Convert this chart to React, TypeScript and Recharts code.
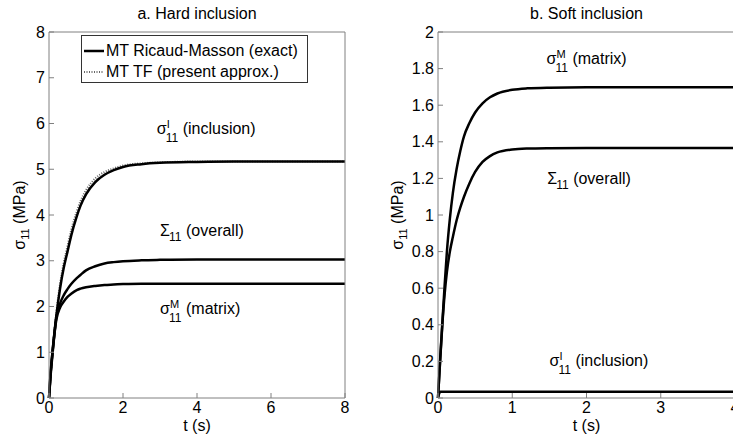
import { LineChart, Line, XAxis, YAxis, Legend, ReferenceDot } from 'recharts';

const FONT = '"Liberation Sans", Arial, Helvetica, sans-serif';
const GREY = '#808080';

// a. Hard inclusion (t in s, stress in MPa)
const tHard = [0, 0.04, 0.1, 0.2, 0.3, 0.4, 0.5, 0.6, 0.75, 0.85, 1.0, 1.25, 1.5, 1.75, 2, 2.5, 3, 4, 5, 6, 7, 8];
const hardInclusion = [0, 0.45, 1.0, 1.8, 2.4, 2.85, 3.2, 3.55, 3.97, 4.2, 4.45, 4.72, 4.88, 4.98, 5.05, 5.11, 5.14, 5.16, 5.17, 5.17, 5.17, 5.17];
const hardInclusionTF = [0, 0.47, 1.05, 1.88, 2.5, 2.96, 3.32, 3.67, 4.08, 4.3, 4.54, 4.8, 4.94, 5.02, 5.08, 5.13, 5.15, 5.17, 5.17, 5.17, 5.17, 5.17];
const hardOverall = [0, 0.5, 1.05, 1.78, 2.07, 2.25, 2.38, 2.49, 2.62, 2.69, 2.79, 2.88, 2.94, 2.97, 2.99, 3.01, 3.02, 3.03, 3.03, 3.03, 3.03, 3.03];
const hardMatrix = [0, 0.52, 1.05, 1.72, 1.98, 2.11, 2.21, 2.28, 2.36, 2.39, 2.42, 2.45, 2.47, 2.48, 2.49, 2.5, 2.5, 2.5, 2.5, 2.5, 2.5, 2.5];
const hardXTicks = [0, 2, 4, 6, 8];
const hardYTicks = [0, 1, 2, 3, 4, 5, 6, 7, 8];

// b. Soft inclusion
const tSoft = [0, 0.03, 0.06, 0.09, 0.12, 0.16, 0.2, 0.25, 0.3, 0.35, 0.42, 0.5, 0.6, 0.7, 0.8, 1.0, 1.2, 1.5, 2, 3, 4];
const softMatrix = [0, 0.22, 0.42, 0.62, 0.8, 0.98, 1.12, 1.25, 1.35, 1.43, 1.5, 1.56, 1.61, 1.643, 1.664, 1.684, 1.692, 1.696, 1.698, 1.698, 1.698];
const softOverall = [0, 0.21, 0.41, 0.57, 0.69, 0.8, 0.88, 0.97, 1.04, 1.1, 1.17, 1.235, 1.29, 1.322, 1.342, 1.358, 1.363, 1.365, 1.366, 1.366, 1.366];
const softInclusion = [0, 0.034, 0.034, 0.034, 0.034, 0.034, 0.034, 0.034, 0.034, 0.034, 0.034, 0.034, 0.034, 0.034, 0.034, 0.034, 0.034, 0.034, 0.034, 0.034, 0.034];
const softXTicks = [0, 1, 2, 3, 4];
const softYTicks = [0, 0.2, 0.4, 0.6, 0.8, 1, 1.2, 1.4, 1.6, 1.8, 2];

const hardRows = tHard.map((t, i) => ({
  t,
  inc: hardInclusion[i],
  incTF: hardInclusionTF[i],
  overall: hardOverall[i],
  matrix: hardMatrix[i],
}));

const softRows = tSoft.map((t, i) => ({
  t,
  inc: softInclusion[i],
  overall: softOverall[i],
  matrix: softMatrix[i],
}));

const tickStyle = { fill: '#000', fontSize: 16, fontFamily: FONT };

// sigma / Sigma annotation with sub 11 and optional superscript
const Annot = ({ cx, cy, sym, sup, label }: any) => (
  <g fontFamily={FONT} fill="#000">
    <text x={cx} y={cy} fontSize={16}>{sym}</text>
    {sup && <text x={cx + 10} y={cy - 6} fontSize={11}>{sup}</text>}
    <text x={cx + 9} y={cy + (sup ? 8 : 5)} fontSize={12}>11</text>
    <text x={cx + 26} y={cy} fontSize={16}>{label}</text>
  </g>
);

const LegendBox = ({ payload }: any) => {
  const items = (payload || []).filter((p: any) => p.type !== 'none');
  items.sort(
    (a: any, b: any) => (a.payload?.strokeDasharray ? 1 : 0) - (b.payload?.strokeDasharray ? 1 : 0)
  );
  return (
    <div
      style={{
        width: 227,
        height: 48,
        boxSizing: 'border-box',
        border: '1px solid #333',
        background: '#fff',
        padding: '4px 0 0 1px',
        fontFamily: FONT,
        fontSize: 16,
        lineHeight: '21px',
        color: '#000',
      }}
    >
      {items.map((it: any) => (
        <div key={it.value} style={{ display: 'flex', alignItems: 'center', whiteSpace: 'nowrap' }}>
          <svg width={22} height={10}>
            <line
              x1={1}
              x2={21}
              y1={5}
              y2={5}
              stroke={it.payload?.stroke}
              strokeWidth={it.payload?.strokeDasharray ? 2 : 2.5}
              strokeDasharray={it.payload?.strokeDasharray}
            />
          </svg>
          <span style={{ marginLeft: 1 }}>{it.value}</span>
        </div>
      ))}
    </div>
  );
};

const yLabel = (x: number, y: number) => (
  <text
    x={x}
    y={y}
    transform={`rotate(-90 ${x} ${y})`}
    textAnchor="middle"
    fontSize={16}
    fontFamily={FONT}
    fill="#000"
  >
    σ<tspan fontSize={11} dy={4}>11</tspan>
    <tspan dy={-4}> (MPa)</tspan>
  </text>
);

const plainText = (x: number, y: number, s: string) => (
  <text x={x} y={y} textAnchor="middle" fontSize={16} fontFamily={FONT} fill="#000">
    {s}
  </text>
);

function HardPanel() {
  return (
    <LineChart width={370} height={440} data={hardRows} margin={{ top: 31, right: 24, bottom: 12, left: 0 }}>
      <XAxis
        xAxisId="b"
        type="number"
        dataKey="t"
        domain={[0, 8]}
        ticks={hardXTicks}
        height={30}
        stroke={GREY}
        tickSize={-5}
        tickMargin={9}
        tick={tickStyle}
      />
      <XAxis xAxisId="top" orientation="top" type="number" dataKey="t" domain={[0, 8]} ticks={hardXTicks} height={1} stroke={GREY} tickSize={-5} tick={false} />
      <YAxis
        yAxisId="l"
        type="number"
        domain={[0, 8]}
        ticks={hardYTicks}
        width={49}
        stroke={GREY}
        tickSize={-5}
        tickMargin={9}
        tick={tickStyle}
      />
      <YAxis yAxisId="r" orientation="right" type="number" domain={[0, 8]} ticks={hardYTicks} width={1} stroke={GREY} tickSize={-5} tick={false} />
      <Line xAxisId="b" yAxisId="l" dataKey="incTF" name="MT TF (present approx.)" type="monotone" stroke="#666" strokeWidth={2} strokeDasharray="1 1.5" dot={false} isAnimationActive={false} />
      <Line xAxisId="b" yAxisId="l" dataKey="inc" name="MT Ricaud-Masson (exact)" type="monotone" stroke="#000" strokeWidth={2.5} dot={false} isAnimationActive={false} />
      <Line xAxisId="b" yAxisId="l" dataKey="overall" legendType="none" type="monotone" stroke="#000" strokeWidth={2.5} dot={false} isAnimationActive={false} />
      <Line xAxisId="b" yAxisId="l" dataKey="matrix" legendType="none" type="monotone" stroke="#000" strokeWidth={2.5} dot={false} isAnimationActive={false} />
      <ReferenceDot xAxisId="b" yAxisId="l" x={2.91} y={5.77} r={0} ifOverflow="visible"
        shape={(p: any) => <Annot cx={p.cx} cy={p.cy} sym="σ" sup="I" label="(inclusion)" />} />
      <ReferenceDot xAxisId="b" yAxisId="l" x={3.0} y={3.54} r={0} ifOverflow="visible"
        shape={(p: any) => <Annot cx={p.cx} cy={p.cy} sym="Σ" label="(overall)" />} />
      <ReferenceDot xAxisId="b" yAxisId="l" x={3.0} y={1.84} r={0} ifOverflow="visible"
        shape={(p: any) => <Annot cx={p.cx} cy={p.cy} sym="σ" sup="M" label="(matrix)" />} />
      <Legend
        layout="vertical"
        align="center"
        verticalAlign="middle"
        wrapperStyle={{ left: 81, top: 35, width: 'auto', height: 'auto' }}
        content={<LegendBox />}
      />
      {plainText(197, 19, 'a. Hard inclusion')}
      {plainText(197, 431, 't (s)')}
      {yLabel(25, 215)}
    </LineChart>
  );
}

function SoftPanel() {
  return (
    <LineChart width={380} height={440} data={softRows} margin={{ top: 31, right: 14, bottom: 12, left: 0 }}>
      <XAxis
        xAxisId="b"
        type="number"
        dataKey="t"
        domain={[0, 4]}
        ticks={softXTicks}
        height={30}
        stroke={GREY}
        tickSize={-5}
        tickMargin={9}
        tick={tickStyle}
      />
      <XAxis xAxisId="top" orientation="top" type="number" dataKey="t" domain={[0, 4]} ticks={softXTicks} height={1} stroke={GREY} tickSize={-5} tick={false} />
      <YAxis
        yAxisId="l"
        type="number"
        domain={[0, 2]}
        ticks={softYTicks}
        width={68}
        stroke={GREY}
        tickSize={-5}
        tickMargin={9}
        tick={tickStyle}
      />
      <YAxis yAxisId="r" orientation="right" type="number" domain={[0, 2]} ticks={softYTicks} width={1} stroke={GREY} tickSize={-5} tick={false} />
      <Line xAxisId="b" yAxisId="l" dataKey="matrix" type="monotone" stroke="#000" strokeWidth={2.5} dot={false} isAnimationActive={false} />
      <Line xAxisId="b" yAxisId="l" dataKey="overall" type="monotone" stroke="#000" strokeWidth={2.5} dot={false} isAnimationActive={false} />
      <Line xAxisId="b" yAxisId="l" dataKey="inc" type="monotone" stroke="#000" strokeWidth={2.5} dot={false} isAnimationActive={false} />
      <ReferenceDot xAxisId="b" yAxisId="l" x={1.46} y={1.825} r={0} ifOverflow="visible"
        shape={(p: any) => <Annot cx={p.cx} cy={p.cy} sym="σ" sup="M" label="(matrix)" />} />
      <ReferenceDot xAxisId="b" yAxisId="l" x={1.47} y={1.17} r={0} ifOverflow="visible"
        shape={(p: any) => <Annot cx={p.cx} cy={p.cy} sym="Σ" label="(overall)" />} />
      <ReferenceDot xAxisId="b" yAxisId="l" x={1.5} y={0.175} r={0} ifOverflow="visible"
        shape={(p: any) => <Annot cx={p.cx} cy={p.cy} sym="σ" sup="I" label="(inclusion)" />} />
      {plainText(216.5, 19, 'b. Soft inclusion')}
      {plainText(216.5, 431, 't (s)')}
      {yLabel(33, 215)}
    </LineChart>
  );
}

export default function App() {
  return (
    <div style={{ position: 'absolute', left: 0, top: 0, width: 733, height: 440, overflow: 'hidden', background: '#fff' }}>
      <div style={{ position: 'absolute', left: 0, top: 0 }}>
        <HardPanel />
      </div>
      <div style={{ position: 'absolute', left: 370, top: 0 }}>
        <SoftPanel />
      </div>
    </div>
  );
}
